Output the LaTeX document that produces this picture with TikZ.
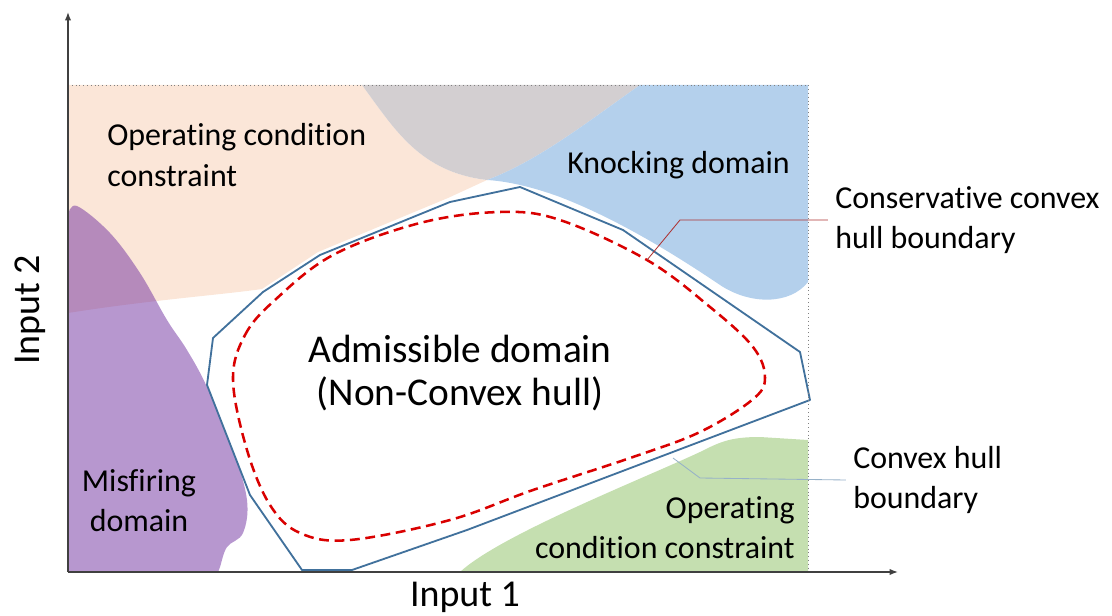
\documentclass[tikz,border=0pt]{standalone}
\usepackage{fontspec}
\setmainfont{Carlito}[Ligatures=NoCommon]
\usetikzlibrary{arrows.meta}
\definecolor{peach}{HTML}{FBE6D8}
\definecolor{smoke}{HTML}{D3CFD1}
\definecolor{sky}{HTML}{B4D0EC}
\definecolor{leaf}{HTML}{C5DFB0}
\definecolor{violet}{HTML}{7030A0}
\definecolor{hullblue}{HTML}{41719C}
\definecolor{axisgray}{HTML}{404040}
\begin{document}
\begin{tikzpicture}[x=0.025cm,y=-0.025cm,
    axis/.style={axisgray,line width=0.9pt,-{Latex[length=6pt,width=4.5pt]}},
    frame line/.style={gray,dotted,line width=0.7pt},
    hull line/.style={hullblue,line width=1.3pt,line join=round},
    safe line/.style={red!85!black,dash pattern=on 7pt off 4pt,line width=1.8pt},
    leader/.style={line width=0.6pt},
    label/.style={inner sep=0pt,font=\fontsize{22.7}{28.5}\selectfont},
    big label/.style={inner sep=0pt,align=center,font=\fontsize{28}{31}\selectfont},
    axis label/.style={inner sep=0pt,font=\fontsize{27}{30}\selectfont}]

    \useasboundingbox (0,0) rectangle (1112,616);

    % Define domains
    \fill[peach] (68,85) -- (362,85) .. controls (395,130) and (420,172) .. (487,180)
        -- (448,198) -- (318,252) -- (262,289)
        .. controls (220,295) and (150,300) .. (68,313) -- cycle;
    \fill[smoke] (362,85) -- (640,85) .. controls (590,120) and (540,160) .. (487,180)
        .. controls (420,172) and (395,130) .. (362,85) -- cycle;
    \fill[sky] (640,85) -- (808,85) -- (808,282)
        .. controls (790,305) and (750,305) .. (720,285)
        .. controls (680,258) and (620,220) .. (560,197)
        .. controls (530,186) and (505,181) .. (487,180)
        .. controls (540,160) and (590,120) .. (640,85) -- cycle;
    \fill[leaf] (460,572) .. controls (500,535) and (640,480) .. (700,452)
        .. controls (720,442) and (730,437) .. (760,437) -- (808,440) -- (808,572) -- cycle;
    \fill[violet,fill opacity=0.5] plot[smooth,tension=0.6] coordinates {(68,215) (77,206)
        (110,233) (140,273) (167,320) (187,350) (207,387) (233,450) (247,500)
        (243,533) (227,547) (220,567) (218,572)} -- (68,572) -- cycle;

    % Define hulls
    \filldraw[hull line,fill=white] (302,570) -- (352,570) -- (467,530) -- (810,400)
        -- (800,352) -- (623,230) -- (520,187) -- (450,202) -- (320,255)
        -- (263,292) -- (213,338) -- (207,385) -- (250,495) -- cycle;
    \draw[safe line] plot[smooth cycle,tension=0.6] coordinates {(233,380) (245,335)
        (275,300) (333,255) (420,223) (500,212) (560,220) (647,260) (710,307)
        (753,347) (765,378) (752,400) (700,432) (633,457) (533,490) (450,520)
        (350,540) (300,533) (270,505) (247,450)};

    % Define axes
    \coordinate (O) at (68,572);
    \coordinate (ytip) at (68,12);
    \coordinate (xtip) at (898,572);
    \draw[frame line] (68,85) -- (808,85) -- (808,572);
    \draw[axis] (O) -- (ytip);
    \draw[axis] (O) -- (xtip);

    % Define labels
    \node[label,align=left,anchor=west] (opup) at (107,155) {Operating condition\\constraint};
    \node[label,anchor=west] (knock) at (567,165) {Knocking domain};
    \node[big label] (admis) at (460,373) {Admissible domain\\(Non-Convex hull)};
    \node[label,align=center] (misfire) at (139,501) {Misfiring\\domain};
    \node[label,align=right,anchor=east] (opdown) at (795,528) {Operating\\condition constraint};
    \node[label,align=left,anchor=west] (cons) at (835,220) {Conservative convex\\hull boundary};
    \node[label,align=left,anchor=west] (conv) at (853,480) {Convex hull\\boundary};
    \node[axis label,rotate=90] (in2) at (30,310) {Input 2};
    \node[axis label] (in1) at (465,597) {Input 1};

    % Define leaders
    \coordinate (consfoot) at (647,260);
    \coordinate (consbend) at (680,220);
    \coordinate (convfoot) at (673,458);
    \coordinate (convbend) at (700,478);
    \draw[leader,red!60!black!80] (consfoot) -- (consbend) -- ([xshift=-5pt]cons.west);
    \draw[leader,hullblue!55] (convfoot) -- (convbend) -- ([xshift=-5pt]conv.west);

\end{tikzpicture}
\end{document}
